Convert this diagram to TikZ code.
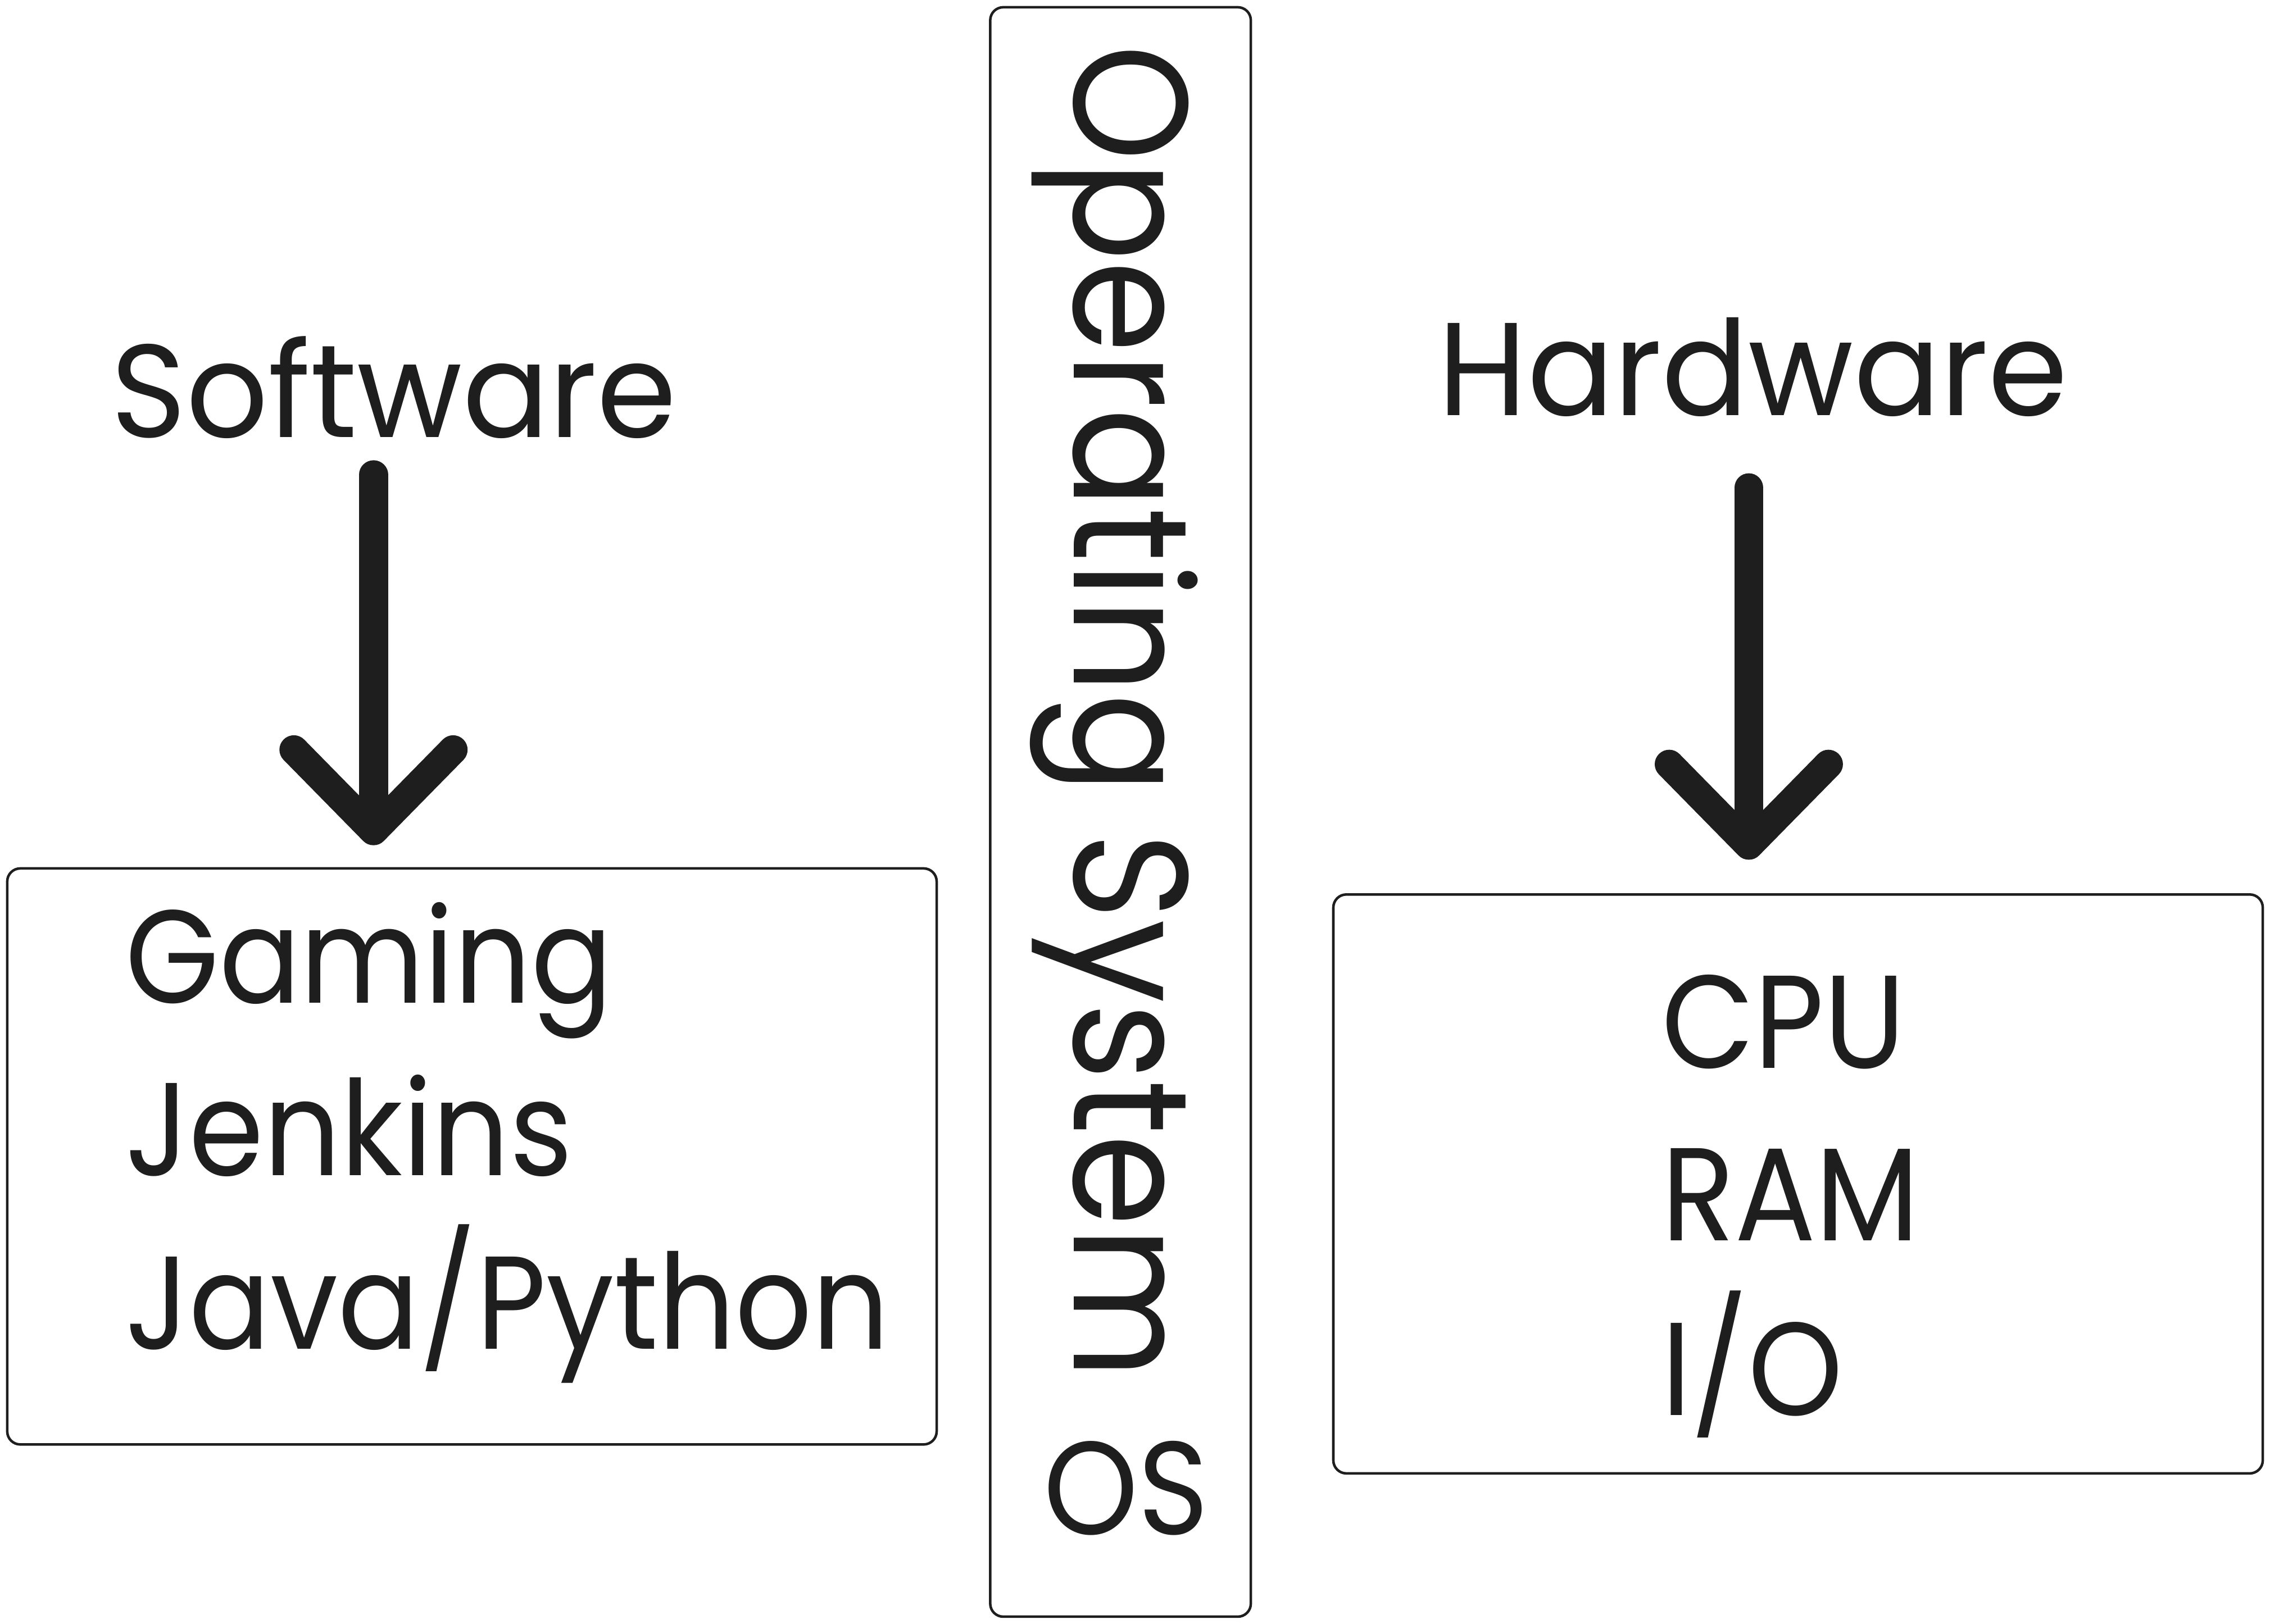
\documentclass[tikz,border=0pt]{standalone}
\usepackage{fontspec}
\setmainfont{Poppins}[FakeStretch=0.91]
\newfontfamily\headfont{Poppins}[FakeStretch=0.97]
\usetikzlibrary{arrows.meta,positioning}
\definecolor{ink}{HTML}{1E1E1E}
\tikzset{
  layerbox/.style={draw=ink, line width=0.5pt, rounded corners=0.9mm, inner sep=0pt},
  title/.style={text=ink, inner sep=0pt, font=\headfont\fontsize{26}{30}\selectfont},
  item/.style={text=ink, inner sep=0pt, anchor=base west, font=\fontsize{26}{30}\selectfont},
  fatarrow/.style={draw=ink, line width=2mm, line cap=round,
                   -{Straight Barb[round, length=5.6mm, width=11mm]}},
}

\begin{document}
\begin{tikzpicture}[x=0.1mm, y=-0.1mm]
    \useasboundingbox (0,0) rectangle (1568,1122);
    % boxes
    \node[layerbox, minimum width=64.2mm, minimum height=39.8mm] (swbox) at (326,799) {};
    \node[layerbox, minimum width=18mm, minimum height=111.2mm] (osbox) at (774,561) {};
    \node[layerbox, minimum width=64.2mm, minimum height=40mm] (hwbox) at (1242,818) {};
    % headings
    \node[title, anchor=base] (software) at (272,302) {Software};
    \node[title, anchor=base] (hardware) at (1211,287) {Hardware};
    \node[item, rotate=-90, font=\fontsize{32}{36}\selectfont] (opsys) at (742,30) {Operating System};
    \node[item, anchor=base] (os) at (778,1060) {OS};
    % software layer
    \node[item] (gaming) at (86,693) {Gaming};
    \node[item] (jenkins) at (86,812) {Jenkins};
    \node[item] (javapy) at (86,932) {Java/Python};
    % hardware layer
    \node[item] (cpu) at (1147,738) {CPU};
    \node[item] (ram) at (1147,857) {RAM};
    \node[item] (io) at (1147,978) {I/O};
    % arrows
    \coordinate (swtop) at (258,328);
    \coordinate (swtip) at (258,584);
    \coordinate (hwtop) at (1208,337);
    \coordinate (hwtip) at (1208,594);
    \draw[fatarrow] (swtop) -- (swtip);
    \draw[fatarrow] (hwtop) -- (hwtip);
\end{tikzpicture}
\end{document}
